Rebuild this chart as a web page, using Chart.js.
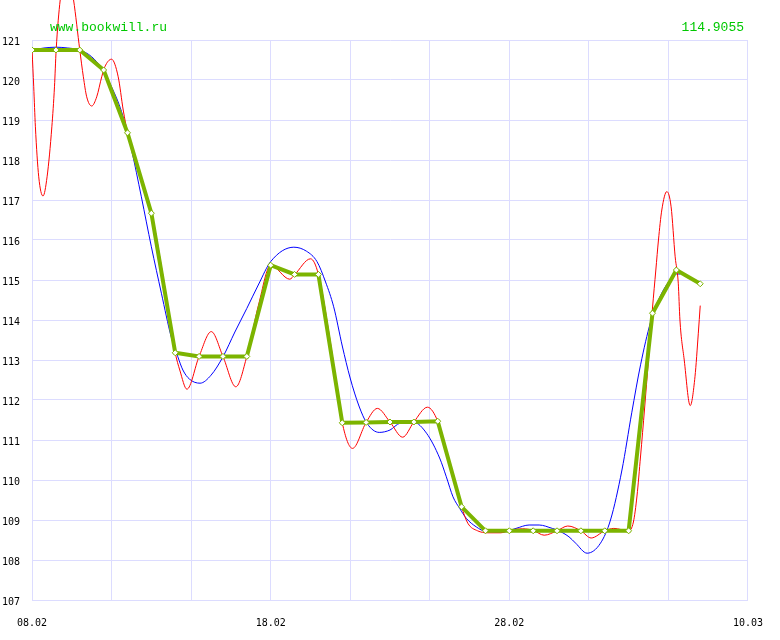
<!DOCTYPE html>
<html>
<head>
<meta charset="utf-8">
<script src="https://cdn.jsdelivr.net/npm/chart.js@4"></script>
<style>
  body { margin: 0; background: #fff; }
  canvas { display: block; }
</style>
</head>
<body>
<canvas id="chart" width="780" height="640"></canvas>
<script>
// подписи
const siteLabel = 'www.bookwill.ru';
const lastValueLabel = '114.9055';
const dateLabels = ['08.02', '18.02', '28.02', '10.03']; // каждые 10 дней
const yMin = 107;
const yMax = 121;

// курс по дням (день 0 = 08.02)
const priceValues = [
    120.75, 120.75, 120.75, 120.25, 118.68, 116.67, 113.18, 113.09, 113.09, 113.09,
    115.37, 115.14, 115.14, 111.43, 111.44, 111.45, 111.45, 111.47, 109.33, 108.73,
    108.73, 108.73, 108.73, 108.73, 108.73, 108.73, 114.17, 115.25, 114.9055
];

// красная кривая
const redDays = [
    0, 0.07, 0.14, 0.28, 0.46, 0.63, 0.83, 0.94, 1.01, 1.18, 1.46, 1.74, 2.0,
    2.15, 2.29, 2.5, 2.71, 2.92, 3.05, 3.33, 3.61, 3.82, 4.0, 4.45, 5.0, 5.5,
    6.0, 6.19, 6.49, 7.0, 7.51, 8.0, 8.54, 9.0, 9.5, 10.0, 10.8, 11.0, 11.67,
    12.0, 12.5, 13.0, 13.43, 14.0, 14.47, 15.0, 15.53, 16.0, 16.57, 17.0, 17.5,
    18.0, 18.26, 18.67, 19.08, 19.64, 20.0, 20.56, 21.0, 21.46, 22.0, 22.45,
    23.0, 23.43, 24.0, 24.38, 25.0, 25.2, 25.35, 25.5, 25.67, 25.83, 26.0,
    26.14, 26.25, 26.39, 26.6, 26.78, 26.95, 27.08, 27.15, 27.33, 27.58, 27.78,
    27.92, 28.0
];
const redValues = [
    120.75, 119.83, 118.83, 117.58, 117.1, 117.58, 118.83, 119.83, 120.75, 122.0, 122.9, 122.0, 120.75,
    120.08, 119.58, 119.35, 119.58, 120.08, 120.33, 120.52, 120.08, 119.25, 118.69, 117.7, 116.7, 115.05,
    113.18, 112.75, 112.27, 113.09, 113.71, 113.09, 112.33, 113.09, 114.4, 115.37, 115.02, 115.13, 115.53,
    115.14, 113.45, 111.43, 110.79, 111.44, 111.79, 111.45, 111.07, 111.45, 111.82, 111.47, 110.45,
    109.33, 108.92, 108.73, 108.68, 108.68, 108.74, 108.78, 108.74, 108.62, 108.73, 108.85,
    108.73, 108.55, 108.73, 108.79, 108.73, 108.95, 109.6, 110.6, 111.8, 113.0, 114.3,
    115.25, 116.0, 116.75, 117.21, 116.83, 115.58, 114.92, 114.0, 113.0, 111.86, 112.58,
    113.67, 114.36
];

// синяя кривая
const blueDays = [
    0, 0.5, 1, 1.5, 2, 2.5, 2.92, 3.33, 3.75, 4.17, 4.58, 5.0, 5.42, 5.83, 6.11,
    6.32, 6.6, 7.04, 7.5, 8.0, 8.5, 9.0, 9.5, 10.0, 10.97, 11.5, 11.94, 12.3,
    12.64, 13.0, 13.33, 13.7, 14.03, 14.55, 15.0, 15.42, 16.0, 16.53, 17.08,
    17.36, 17.64, 17.92, 18.2, 18.61, 19.03, 19.72, 20.28, 20.83, 21.25, 21.8,
    22.0, 22.5, 22.78, 23.26, 23.82, 24.24, 24.72, 25.13, 25.5, 25.92, 26.25,
    26.67, 27.0, 27.17
];
const blueValues = [
    120.75, 120.8, 120.82, 120.8, 120.75, 120.58, 120.29, 119.83, 119.21, 118.25, 117.08, 115.83, 114.67, 113.58, 113.08,
    112.75, 112.52, 112.42, 112.62, 113.08, 113.7, 114.29, 114.9, 115.46, 115.82, 115.72, 115.46, 114.95,
    114.33, 113.35, 112.55, 111.85, 111.42, 111.19, 111.25, 111.42, 111.44, 111.17, 110.55,
    110.08, 109.58, 109.29, 109.04, 108.83, 108.71, 108.7, 108.79, 108.875, 108.875, 108.79,
    108.75, 108.58, 108.42, 108.17, 108.42, 109.0, 110.25, 111.68, 112.88, 113.95, 114.5,
    114.95, 115.15, 115.15
];

const toPoints = (xs, ys) => xs.map((x, i) => ({ x: x, y: ys[i] }));

const textPlugin = {
    id: 'texts',
    afterDraw(chart) {
        const ctx = chart.ctx;
        ctx.save();
        ctx.font = '13px "Liberation Mono", monospace';
        ctx.fillStyle = '#00c800';
        ctx.textBaseline = 'middle';
        ctx.textAlign = 'left';
        ctx.fillText(siteLabel, 50, 28);
        ctx.textAlign = 'right';
        ctx.fillText(lastValueLabel, 744, 28);
        ctx.restore();
    }
};

const gridColor = '#dcdcff';
const tickFont = { family: '"DejaVu Sans Mono", monospace', size: 10 };

new Chart(document.getElementById('chart'), {
    type: 'line',
    data: {
        datasets: [
            {
                data: priceValues.map((v, i) => ({ x: i, y: v })),
                borderColor: '#7cb400',
                borderWidth: 4,
                pointStyle: 'rectRot',
                pointRadius: 3,
                pointBorderWidth: 1,
                pointBorderColor: '#7cb400',
                pointBackgroundColor: '#ffffff',
                tension: 0,
                order: 0
            },
            {
                data: toPoints(redDays, redValues),
                borderColor: '#ff0000',
                borderWidth: 1,
                pointRadius: 0,
                cubicInterpolationMode: 'monotone',
                clip: { left: 0, top: 45, right: 0, bottom: 0 },
                order: 1
            },
            {
                data: toPoints(blueDays, blueValues),
                borderColor: '#0000ff',
                borderWidth: 1,
                pointRadius: 0,
                cubicInterpolationMode: 'monotone',
                order: 2
            }
        ]
    },
    options: {
        responsive: false,
        animation: false,
        layout: { padding: { top: 40, right: 30, left: 0, bottom: 0 } },
        plugins: {
            legend: { display: false },
            tooltip: { enabled: false }
        },
        scales: {
            x: {
                type: 'linear',
                min: 0,
                max: 30,
                afterBuildTicks: scale => {
                    scale.ticks = Array.from({ length: 10 }, (_, i) => ({ value: i * 10 / 3 }));
                },
                afterFit: scale => { scale.height = 40; },
                grid: { color: gridColor, drawTicks: false },
                border: { color: gridColor },
                ticks: {
                    autoSkip: false,
                    maxRotation: 0,
                    padding: 17,
                    color: '#000',
                    font: tickFont,
                    callback: (value, index) => index % 3 === 0 ? dateLabels[index / 3] : ''
                }
            },
            y: {
                min: yMin,
                max: yMax,
                afterFit: scale => { scale.width = 30; },
                grid: { color: gridColor, drawTicks: false },
                border: { color: gridColor },
                ticks: {
                    stepSize: 1,
                    crossAlign: 'far',
                    padding: 0,
                    labelOffset: 2,
                    color: '#000',
                    font: tickFont
                }
            }
        }
    },
    plugins: [textPlugin]
});
</script>
</body>
</html>
